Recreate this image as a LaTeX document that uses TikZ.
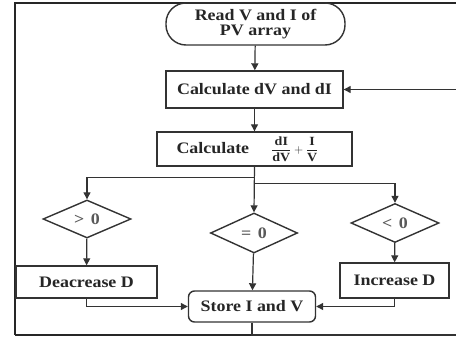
\documentclass[tikz,border=0pt]{standalone}
\usepackage{amsmath}
\usepackage{fontspec}
\setmainfont{Liberation Serif}[FakeStretch=1.12]
\usetikzlibrary{shapes.geometric,arrows.meta}
\begin{document}
\begin{tikzpicture}[x=1pt,y=-1pt,
  box/.style={draw=black!80, line width=1.4pt, rectangle, inner sep=0pt,
    font=\fontsize{16}{15}\selectfont\bfseries, text=black!85, align=center},
  dia/.style={draw=black!80, line width=1.4pt, diamond, inner sep=0pt,
    font=\fontsize{16}{15}\selectfont\bfseries, text=black!65},
  conn/.style={draw=black!80, line width=1.2pt},
  arr/.style={conn, -{Triangle[length=7pt,width=7pt]}},
  frameline/.style={draw=black!85, line width=2pt}]
\clip (0,0) rectangle (456,337);
\fill[white] (0,0) rectangle (456,337);
% frame
\draw[frameline] (462,3) -- (15,3) -- (15,335);
\draw[frameline, line width=2.6pt] (15,335) -- (462,335);
% nodes
\node[box, rounded corners=20pt, minimum width=179pt, minimum height=42pt] (start) at (255.5,24) {Read V and I of\\PV array};
\node[box, minimum width=177pt, minimum height=37pt] (cdv) at (254.5,89.5) {Calculate dV and dI};
\node[box, minimum width=195pt, minimum height=34pt] (calc2) at (254.5,149) {Calculate\hspace{22pt}{\fontsize{12.5}{13}\selectfont$\dfrac{\text{dI}}{\text{dV}}+\dfrac{\text{I}}{\text{V}}$}\hspace{14pt}};
\node[dia, minimum width=88pt, minimum height=38pt] (gt) at (87,219) {>\hspace{0.4em}0};
\node[dia, minimum width=87pt, minimum height=40pt] (eq) at (254,233) {=\hspace{0.4em}0};
\node[dia, minimum width=88pt, minimum height=39pt] (lt) at (395,223) {<\hspace{0.4em}0};
\node[box, minimum width=141pt, minimum height=32pt] (dec) at (86.5,282) {Deacrease D};
\node[box, minimum width=109pt, minimum height=35pt] (inc) at (394.5,280.5) {Increase D};
\node[box, rounded corners=6pt, minimum width=127pt, minimum height=31pt] (store) at (252,306.5) {Store I and V};
% connectors
\draw[arr] (start) -- (cdv);
\draw[arr] (cdv) -- (calc2);
\draw[arr] (calc2.south) -- (eq.north);
\draw[arr] ([yshift=-11pt]calc2.south) -| (gt.north);
\draw[arr] ([yshift=-17pt]calc2.south) -| (lt.north);
\draw[arr] (gt) -- (dec);
\draw[arr] (lt) -- (inc);
\draw[arr] (eq) -- (store);
\draw[arr] (dec.south) |- (store.west);
\draw[arr] (inc.south) |- (store.east);
\coordinate (fbA) at (252,335);
\coordinate (fbB) at (462,335);
\draw[arr] (store.south) -- (fbA) -- (fbB) |- (cdv.east);
\end{tikzpicture}
\end{document}
